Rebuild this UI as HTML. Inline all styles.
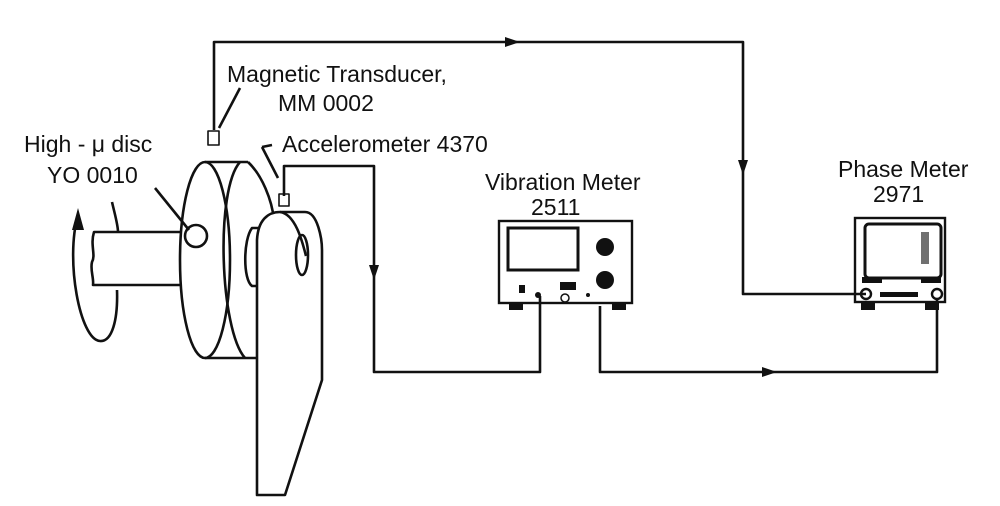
<!DOCTYPE html>
<html><head><meta charset="utf-8"><style>
html,body{margin:0;padding:0;background:#fff;}
svg{display:block}
text{font-family:"Liberation Sans",sans-serif;font-size:23px;fill:#111}
</style></head><body>
<svg width="1000" height="506" viewBox="0 0 1000 506" xmlns="http://www.w3.org/2000/svg">
<g fill="none" stroke="#111" stroke-width="2.6" stroke-linejoin="round">
<polyline points="214,130 214,42 743,42 743,294 866,294"/>
<polyline points="284,196 284,166 374,166 374,372 540,372 540,296"/>
<polyline points="600,306 600,372 937,372 937,300"/>
<line x1="219" y1="128" x2="240" y2="88"/>
<line x1="262" y1="147" x2="278" y2="178"/>
<line x1="262" y1="147" x2="272" y2="145"/>
<line x1="155" y1="188" x2="189" y2="230"/>
<path d="M78,215 C65,260 80,340 100,341 C112,342 118,320 117,290"/>
<path d="M112,202 C115,215 118,225 118,232"/>
<path d="M182,232 L94,232 C90,245 96,255 92,262 C90,270 94,278 93,285 L182,285"/>
<path d="M205,162 L248,162"/>
<path d="M205,358 L258,358"/>
<ellipse cx="205" cy="260" rx="25" ry="98"/>
<path d="M240,162 C215,190 220,330 245,358"/>
<path d="M248,162 C262,175 272,200 274,220 L274,300"/>
<circle cx="196" cy="236" r="11"/>
<path d="M262,228 L252,228 C243,240 243,280 252,286 L262,286"/>
<path d="M257,495 L257,240 C258,220 268,212 280,212 L305,212 C318,212 322,240 322,250 L322,380 L285,495 Z" fill="#fff"/>
<path d="M280,212 C295,214 302,240 306,256"/>
<ellipse cx="302" cy="255" rx="6" ry="20"/>
<rect x="208" y="131" width="11" height="14" stroke-width="1.6"/>
<rect x="279" y="194" width="10" height="12" stroke-width="1.6"/>
</g>
<g fill="#111">
<polygon points="505,37 520,42 505,47"/>
<polygon points="738,160 743,175 748,160"/>
<polygon points="369,265 374,280 379,265"/>
<polygon points="762,367 777,372 762,377"/>
<polygon points="72,230 78,208 84,230"/>
</g>
<g stroke="#111" fill="none" stroke-width="2.4">
<rect x="499" y="221" width="133" height="82"/>
<rect x="508" y="228" width="70" height="42" stroke-width="3"/>
</g>
<g fill="#111">
<rect x="509" y="302" width="14" height="8"/><rect x="612" y="302" width="14" height="8"/>
<circle cx="605" cy="247" r="9"/><circle cx="605" cy="280" r="9"/>
<rect x="560" y="282" width="16" height="8"/><rect x="519" y="285" width="6" height="8"/>
<circle cx="538" cy="295" r="3"/><circle cx="588" cy="295" r="2"/>
</g>
<circle cx="565" cy="298" r="4" fill="none" stroke="#111" stroke-width="1.5"/>
<g stroke="#111" fill="none" stroke-width="2.4">
<rect x="855" y="218" width="90" height="84"/>
<rect x="865" y="224" width="76" height="54" rx="4" stroke-width="3"/>
</g>
<g fill="#111">
<rect x="861" y="302" width="14" height="8"/><rect x="925" y="302" width="14" height="8"/>
<rect x="862" y="277" width="20" height="6"/><rect x="921" y="277" width="20" height="6"/>
<rect x="880" y="292" width="38" height="5"/>
<rect x="921" y="232" width="8" height="32" opacity="0.6"/>
</g>
<circle cx="866" cy="294" r="5" fill="none" stroke="#111" stroke-width="2.4"/>
<circle cx="937" cy="294" r="5" fill="none" stroke="#111" stroke-width="2.4"/>
<text x="227" y="82">Magnetic Transducer,</text>
<text x="278" y="111">MM 0002</text>
<text x="24" y="152">High - μ disc</text>
<text x="47" y="183">YO 0010</text>
<text x="282" y="152">Accelerometer 4370</text>
<text x="485" y="190">Vibration Meter</text>
<text x="531" y="215">2511</text>
<text x="838" y="177">Phase Meter</text>
<text x="873" y="202">2971</text>
</svg>
</body></html>
